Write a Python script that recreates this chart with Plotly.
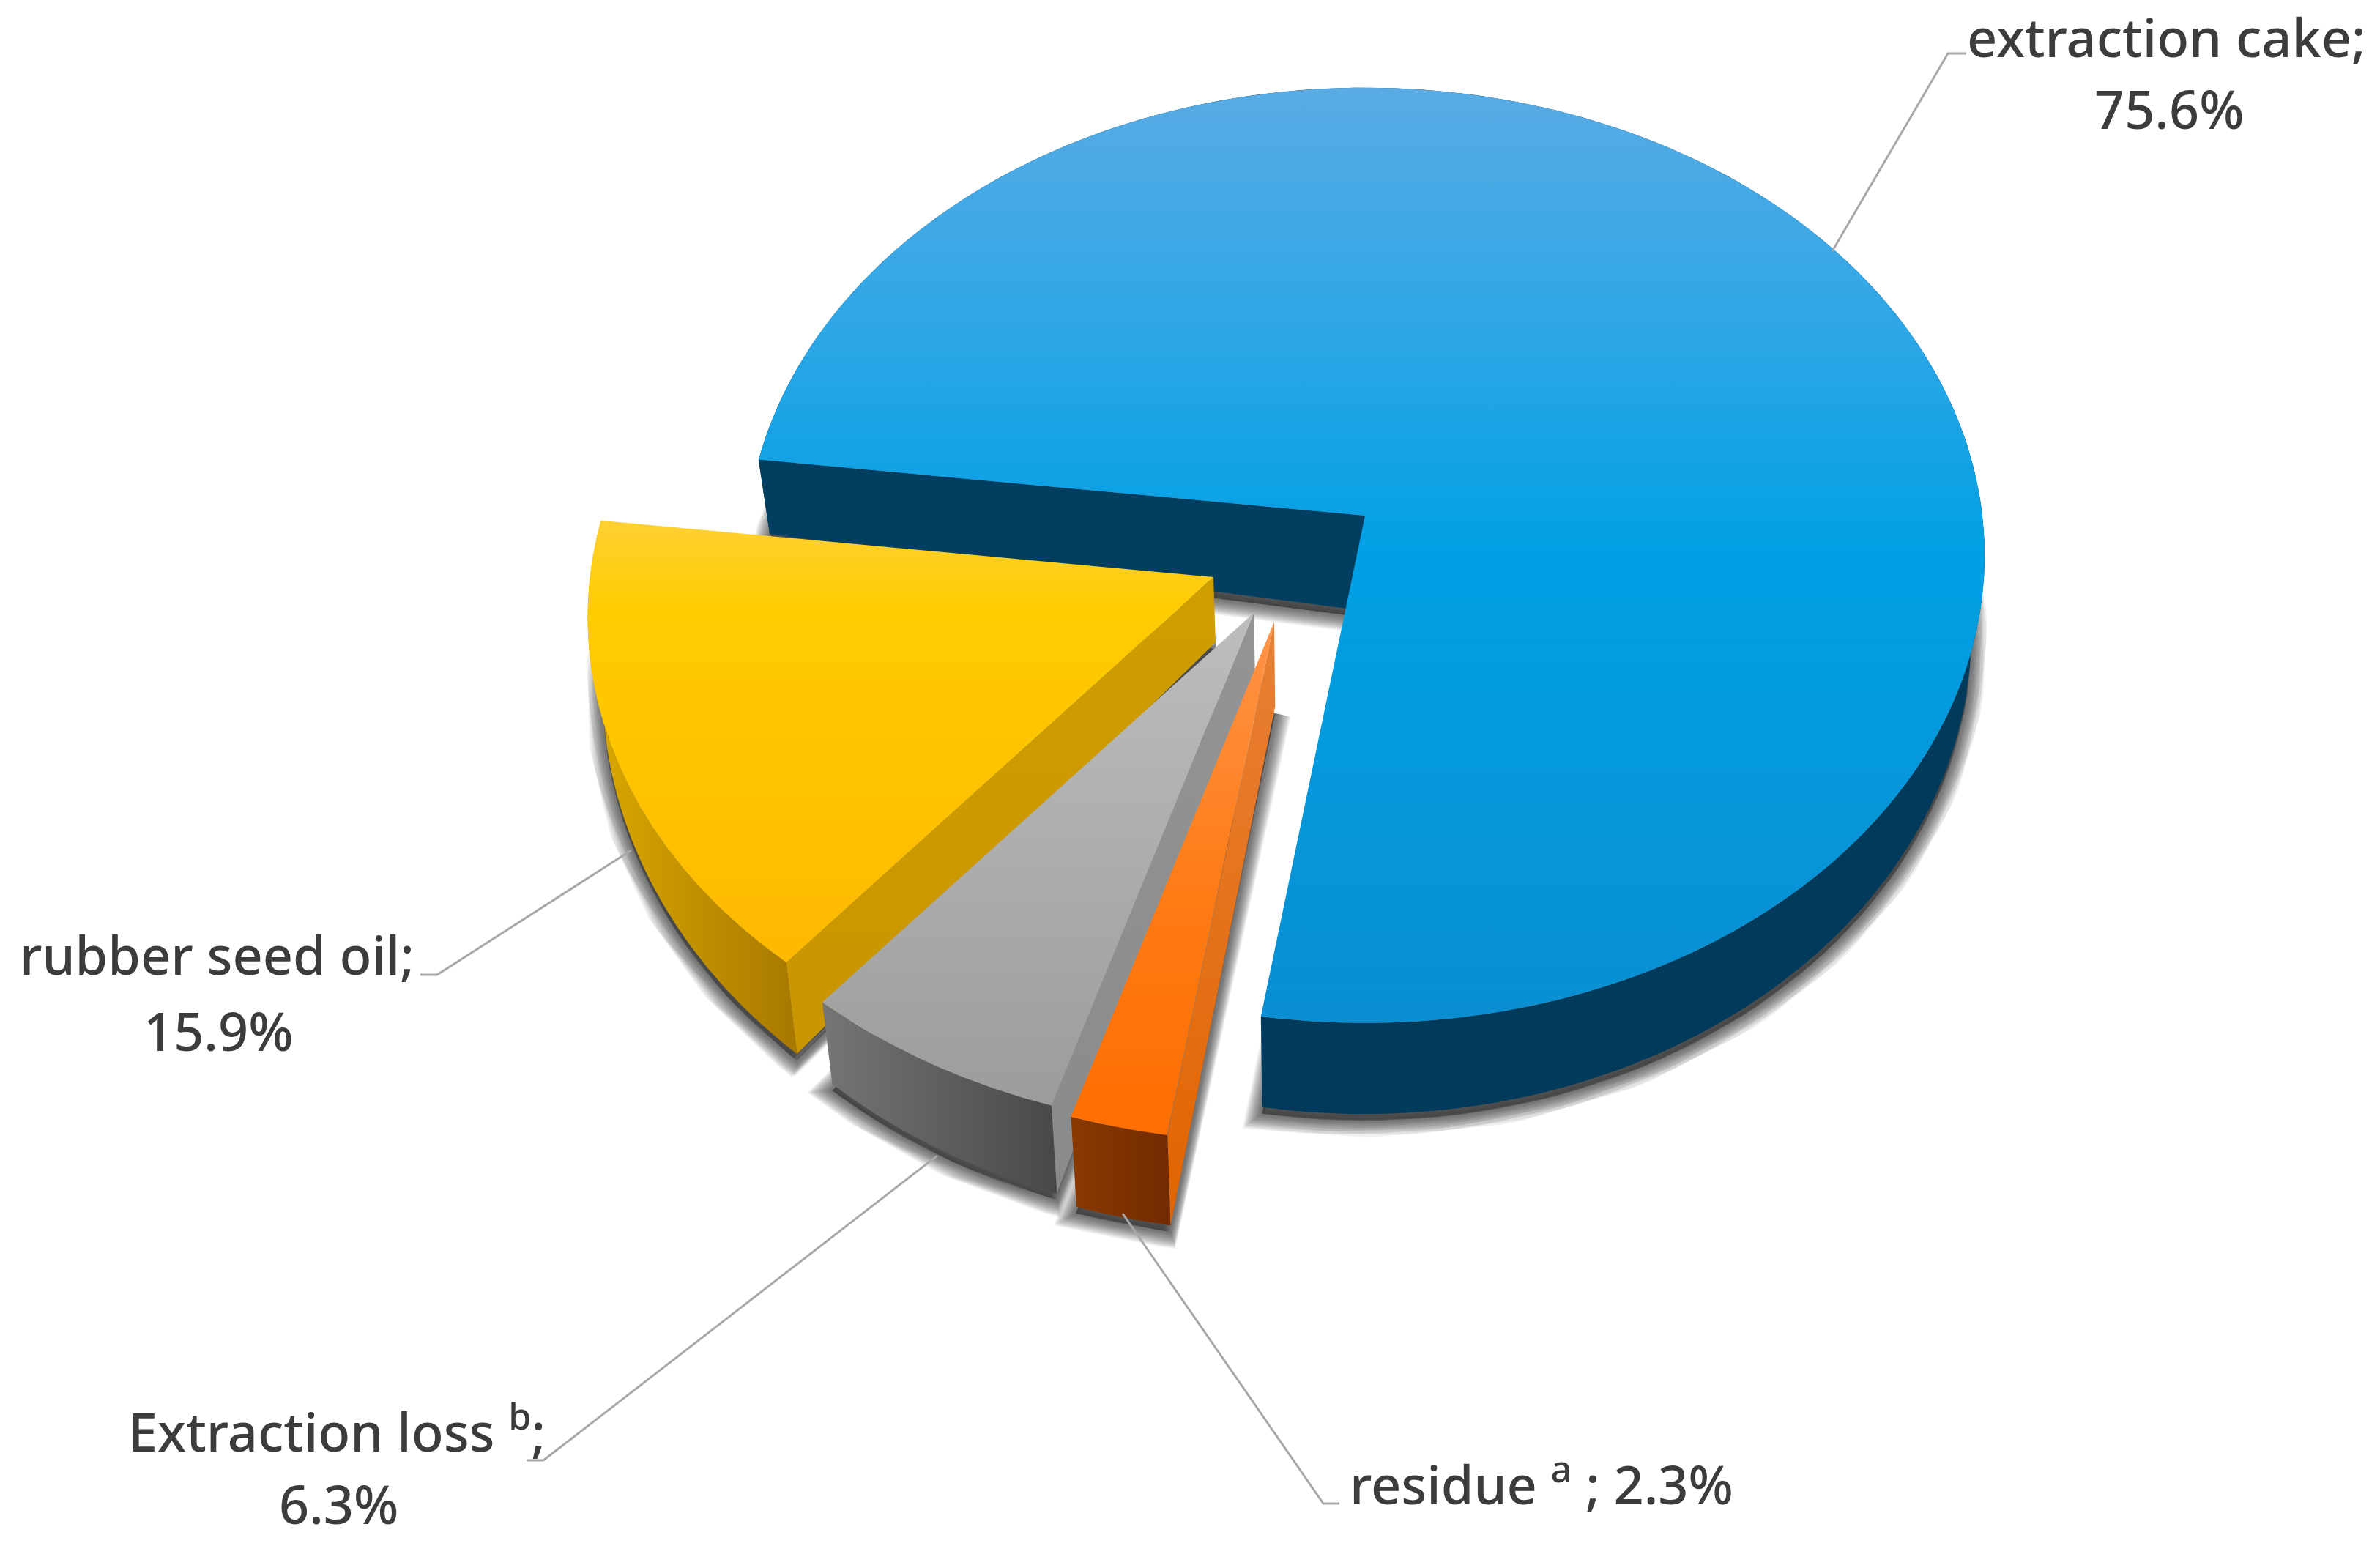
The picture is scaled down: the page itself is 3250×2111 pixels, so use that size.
import numpy as np
import plotly.graph_objects as go

# ---- data ----
categories = ["extraction cake", "residue", "Extraction loss", "rubber seed oil"]
shares = [75.6, 2.3, 6.3, 15.9]
draw_order = ["extraction cake", "rubber seed oil", "Extraction loss", "residue"]

# ---- projection / style ----
W, H = 3250, 2111
START = 277.0      # pie angle (clockwise from top) where first slice begins
RX, RY, PERSP = 843.0, 634.0, 0.085
VANISH_X, CONVERGE = 1800.0, 0.02

apex = {"extraction cake": (1864, 704), "residue": (1740, 849),
        "Extraction loss": (1712, 837), "rubber seed oil": (1657, 788)}
scale = {"extraction cake": 1.0, "residue": 1.025, "Extraction loss": 1.02, "rubber seed oil": 1.01}
# thickness: (y0, t0, slope)
thick = {"extraction cake": (628, 102, 0.029), "residue": (849, 116, 0.0103),
         "Extraction loss": (1372, 112, 0.057), "rubber seed oil": (788, 89, 0.068)}
# colour stops run from the lower edge (0) to the upper edge (1) on this reversed axis
top_grad = {
    "extraction cake": [[0, "#0a8ed2"], [0.5, "#00a0e4"], [0.72, "#2aa6e6"], [1, "#59abe4"]],
    "residue": [[0, "#ff6e00"], [0.5, "#ff7c18"], [1, "#ff9448"]],
    "Extraction loss": [[0, "#9c9c9c"], [1, "#bdbdbd"]],
    "rubber seed oil": [[0, "#ffb900"], [0.8, "#ffcc00"], [1, "#ffd033"]],
}
rim_grad = {
    "extraction cake": [[0, "#023a5c"], [1, "#023a5c"]],
    "residue": [[0, "#8a3a00"], [1, "#722a00"]],
    "Extraction loss": [[0, "#757575"], [1, "#484848"]],
    "rubber seed oil": [[0, "#dcaa00"], [1, "#a87800"]],
}
face_grad = {
    "extraction cake": [[0, "#023e60"], [1, "#023e60"]],
    "residue": [[0, "#e06400"], [1, "#e98035"]],
    "Extraction loss": [[0, "#8a8a8a"], [1, "#949494"]],
    "rubber seed oil": [[0, "#c99500"], [1, "#cf9e00"]],
}

labels = [
    ("extraction cake;", 2958, 50), ("75.6%", 2962, 148),
    ("rubber seed oil;", 296, 1303), ("15.9%", 298, 1407),
    ("Extraction loss <sup>b</sup>;", 460, 1950), ("6.3%", 462, 2053),
    ("residue <sup>a</sup> ; 2.3%", 2105, 2022),
]
leaders = [
    [(2502, 343), (2660, 73), (2685, 73)],
    [(862, 1161), (597, 1331), (574, 1331)],
    [(1280, 1578), (742, 1994), (719, 1994)],
    [(1533, 1657), (1807, 2053), (1829, 2053)],
]


def top_pts(name, angs):
    ax, ay = apex[name]
    s = scale[name]
    th = np.radians(angs)
    u, v = np.sin(th), -np.cos(th)
    w = 1 - PERSP * v
    return ax + s * RX * u / w, ay + s * RY * v / w


def drop(name, x, y, extra=None):
    y0, t0, b = thick[name]
    t = t0 + b * (np.asarray(y) - y0) if extra is None else extra
    return np.asarray(x) + (VANISH_X - np.asarray(x)) * CONVERGE, np.asarray(y) + t


def poly(x, y, grad, gtype="vertical"):
    return go.Scatter(x=list(x), y=list(y), mode="lines", fill="toself",
                      line=dict(width=0), hoverinfo="skip", showlegend=False,
                      fillgradient=dict(type=gtype, colorscale=grad))


total = sum(shares)
spans, a = {}, START
for c, v in zip(categories, shares):
    spans[c] = (a, a + v / total * 360)
    a += v / total * 360

fig = go.Figure()

# soft shadows under the slices
for c in draw_order:
    a0, a1 = spans[c]
    angs = np.linspace(a0, a1, 160)
    x, y = top_pts(c, angs)
    bx, by = drop(c, x, y)
    ax, ay = apex[c]
    ex = 130 if c == "extraction cake" else None
    abx, aby = drop(c, [ax], [ay], ex)
    sx = np.r_[abx, bx, abx]
    sy = np.r_[aby, by, aby] + 9
    for wd in range(44, 2, -3):
        fig.add_trace(go.Scatter(x=sx, y=sy, mode="lines", fill="toself",
                                 fillcolor="rgba(40,40,40,0.065)",
                                 line=dict(width=wd, color="rgba(40,40,40,0.065)"),
                                 hoverinfo="skip", showlegend=False))

# solid slices, back to front
for c in draw_order:
    a0, a1 = spans[c]
    angs = np.linspace(a0, a1, 200)
    x, y = top_pts(c, angs)
    bx, by = drop(c, x, y)
    ax, ay = apex[c]
    if c == "extraction cake":
        keep = angs >= 80
        fig.add_trace(poly(np.r_[x[keep], bx[keep][::-1]], np.r_[y[keep], by[keep][::-1]], rim_grad[c], "horizontal"))
        abx, aby = drop(c, [ax], [ay], 130)
        fig.add_trace(poly([x[0], ax, abx[0], bx[0]], [y[0], ay, aby[0], by[0]], face_grad[c], "horizontal"))
    else:
        abx, aby = drop(c, [ax], [ay])
        fig.add_trace(poly([x[0], ax, abx[0], bx[0]], [y[0], ay, aby[0], by[0]], face_grad[c], "vertical"))
        fig.add_trace(poly(np.r_[x, bx[::-1]], np.r_[y, by[::-1]], rim_grad[c], "horizontal"))
    fig.add_trace(poly(np.r_[ax, x, ax], np.r_[ay, y, ay], top_grad[c], "vertical"))

# leader lines
for pts in leaders:
    fig.add_trace(go.Scatter(x=[p[0] for p in pts], y=[p[1] for p in pts], mode="lines",
                             line=dict(color="#a8a8a8", width=3), hoverinfo="skip", showlegend=False))

for txt, x, y in labels:
    fig.add_annotation(x=x, y=y, text=txt, showarrow=False, xanchor="center", yanchor="middle",
                       font=dict(family="Noto Sans", size=72, color="#3c3c3c", weight=500))

fig.update_xaxes(range=[0, W], visible=False, fixedrange=True)
fig.update_yaxes(range=[H, 0], visible=False, fixedrange=True)
fig.update_layout(width=W, height=H, margin=dict(l=0, r=0, t=0, b=0),
                  paper_bgcolor="white", plot_bgcolor="white", showlegend=False)
fig.write_html("out.html", config={"displayModeBar": False},
               post_script="document.body.style.margin='0';document.body.style.overflow='hidden';")
